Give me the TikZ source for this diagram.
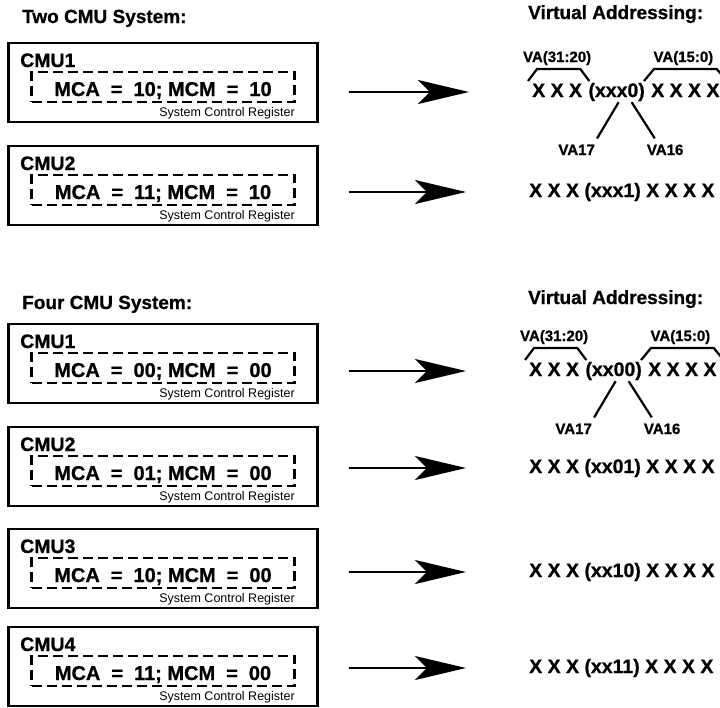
\documentclass[tikz,border=0pt]{standalone}
\usepackage{fontspec}
\setmainfont[BoldFeatures={FakeBold=0.8}]{Liberation Sans}
\usetikzlibrary{arrows.meta, positioning}
\newcommand\eqgap{\hspace{11pt}}

\begin{document}
\begin{tikzpicture}[x=1pt, y=-1pt,
    cmubox/.style={draw, line width=2.3pt, minimum width=309pt, minimum height=79pt, inner sep=0pt},
    regbox/.style={draw, line width=2.3pt, dash pattern=on 10pt off 5pt, minimum width=263pt, minimum height=30pt, inner sep=0pt},
    heading/.style={font=\fontsize{19}{22}\selectfont\bfseries, inner sep=0pt, anchor=base west},
    cmulbl/.style={font=\fontsize{19.5}{22}\selectfont\bfseries, inner sep=0pt, anchor=base west},
    mcatext/.style={font=\fontsize{20}{23}\selectfont\bfseries, inner sep=0pt, anchor=base},
    scrtext/.style={font=\fontsize{12.5}{14}\selectfont, inner sep=0pt, anchor=base east},
    xrow/.style={font=\fontsize{19.5}{22}\selectfont\bfseries, inner sep=0pt, text height=14pt, text depth=4pt, anchor=base west},
    valbl/.style={font=\fontsize{15}{17}\selectfont\bfseries, inner sep=0pt, anchor=base},
    bracket/.style={line width=2.2pt},
    valine/.style={line width=2.2pt},
    bigarrow/.style={line width=2.3pt, -{Stealth[length=51pt, width=24pt, inset=12pt]}}
  ]
    \useasboundingbox (0,0) rectangle (720,707);
    % 标题
    \node[heading] (twohead) at (22,23) {Two CMU System:};
    \node[heading] (va2head) at (528,19) {Virtual Addressing:};
    \node[heading] (fourhead) at (22,309) {Four CMU System:};
    \node[heading] (va4head) at (528,304) {Virtual Addressing:};
    % CMU 框
    \foreach \n/\yt/\lbl/\mca/\mcm in {a1/43/CMU1/10/10, a2/146/CMU2/11/10,
        b1/324/CMU1/00/00, b2/427/CMU2/01/00, b3/529/CMU3/10/00, b4/627/CMU4/11/00} {
      \node[cmubox] (\n) at (163,\yt+39.5) {};
      \node[cmulbl] (\n lbl) at (20,\yt+24) {\lbl};
      \node[regbox] (\n reg) at (163,\yt+44) {};
      \node[mcatext] (\n mca) at (163,\yt+53) {MCA\eqgap=\eqgap\mca; MCM\eqgap=\eqgap\mcm};
      \node[scrtext] (\n scr) at (295,\yt+73) {System Control Register};
    }
    % 虚拟地址
    \node[xrow] (ra1) at (532,97) {X X X};
    \node[xrow, base right=6pt of ra1] (ma1) {(xxx0)};
    \node[xrow, base right=6pt of ma1] (na1) {X X X X};
    \node[xrow] (ra2) at (529,197) {X X X (xxx1) X X X X};
    \node[xrow] (rb1) at (529,376) {X X X};
    \node[xrow, base right=6pt of rb1] (mb1) {(xx00)};
    \node[xrow, base right=6pt of mb1] (nb1) {X X X X};
    \node[xrow] (rb2) at (529,473) {X X X (xx01) X X X X};
    \node[xrow] (rb3) at (529,577) {X X X (xx10) X X X X};
    \node[xrow] (rb4) at (529,673) {X X X (xx11) X X X X};
    % 地址位说明
    \foreach \s in {a1,b1} {
      \node[valbl] (hi\s) at ([shift={(0,-35)}]r\s.base) {VA(31:20)};
      \node[valbl] (lo\s) at ([shift={(-2,-35)}]n\s.base) {VA(15:0)};
      \draw[bracket] ([shift={(-4,-16)}]r\s.base west) -- ([shift={(5,-28)}]r\s.base west)
        -- ([shift={(-2,-28)}]r\s.base east) -- ([shift={(7,-16)}]r\s.base east);
      \draw[bracket] ([shift={(-7,-16)}]n\s.base west) -- ([shift={(3,-28)}]n\s.base west)
        -- ([shift={(-3,-28)}]n\s.base east) -- ([shift={(7,-16)}]n\s.base east);
      \node[valbl] (bit17\s) at ([shift={(-40,58)}]m\s.base) {VA17};
      \node[valbl] (bit16\s) at ([shift={(48.5,58)}]m\s.base) {VA16};
      \draw[valine] ([shift={(2,1)}]m\s.south) -- ([shift={(2,-6)}]bit17\s.north east);
      \draw[valine] ([shift={(15,1)}]m\s.south) -- ([shift={(8,-6)}]bit16\s.north west);
    }
    % 箭头
    \foreach \n in {a1,a2,b1,b2,b3,b4}
      \draw[bigarrow, shorten <=30pt, shorten >=63pt] (\n.east |- r\n.west) -- (r\n.west);
\end{tikzpicture}
\end{document}
